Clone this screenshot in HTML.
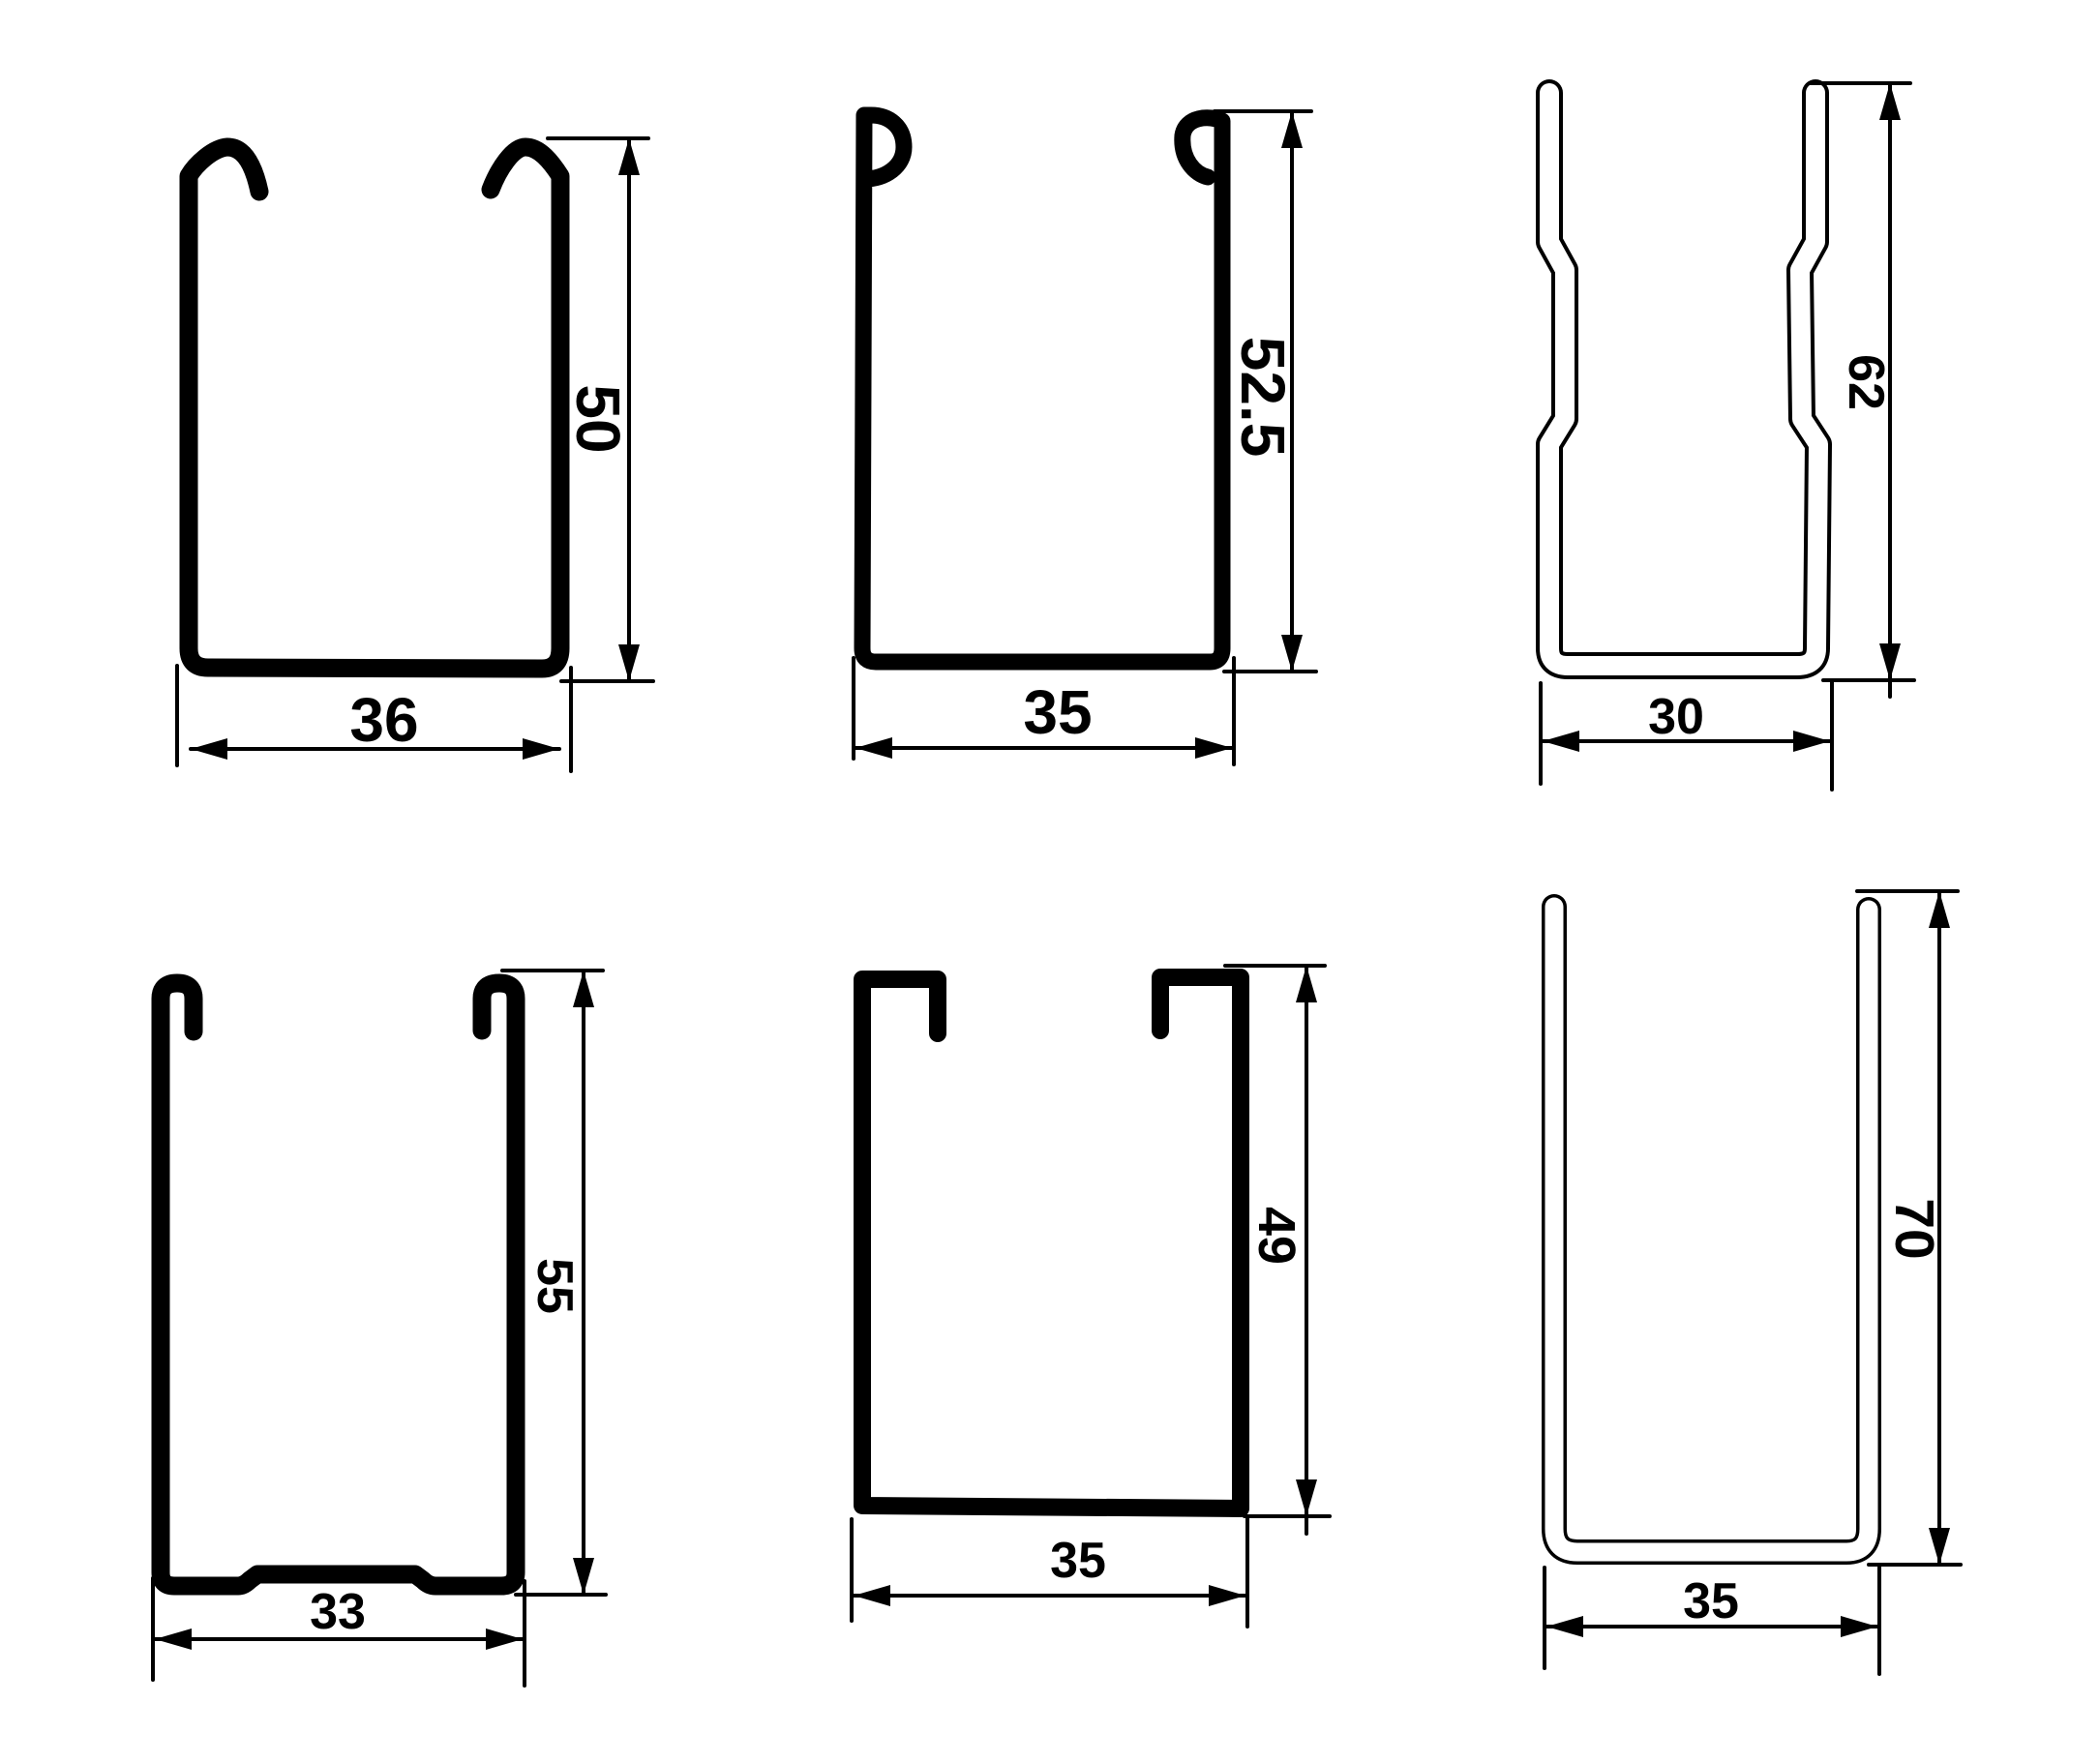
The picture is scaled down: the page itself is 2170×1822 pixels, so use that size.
<!DOCTYPE html>
<html><head><meta charset="utf-8"><style>html,body{margin:0;padding:0;background:#fff}svg{display:block}</style></head>
<body>
<svg width="2170" height="1822" viewBox="0 0 2170 1822" xmlns="http://www.w3.org/2000/svg">
<defs>
<marker id="a" markerUnits="userSpaceOnUse" markerWidth="40" markerHeight="24" refX="38" refY="11" orient="auto-start-reverse"><path d="M0,0 L38,11 L0,22 Z" fill="#000"/></marker>
</defs>
<rect width="2170" height="1822" fill="#fff"/>
<g fill="none" stroke="#000" stroke-linecap="round" stroke-linejoin="round">
<path stroke-width="19" d="M268,198 C262,170 252,152 235,152 C220,153 202,170 195,182 L195,670 Q195,690 215,690 L560,691 Q579,691 579,670 L579,182 C570,168 558,152 543,152 C530,152 515,175 507,196"/>
<path stroke-width="17" d="M893,185 C915,185 934,172 934,152 C934,130 918,119 900,119 L893,119 L891,670 Q891,684 905,684 L1250,684 Q1263,684 1263,670 L1263,125 C1250,119 1225,120 1222,140 C1220,165 1235,180 1248,183"/>
<path stroke-width="28" d="M1601,96 L1601,250 L1617,279 L1617,433 L1601,459 L1601,670 Q1601,688 1620,688 L1857,688 Q1877,688 1877,670 L1879,459 L1862,433 L1860,279 L1876,250 L1876,96"/>
<path stroke-width="20" stroke="#fff" d="M1601,96 L1601,250 L1617,279 L1617,433 L1601,459 L1601,670 Q1601,688 1620,688 L1857,688 Q1877,688 1877,670 L1879,459 L1862,433 L1860,279 L1876,250 L1876,96"/>
<path stroke-width="19" d="M200,1066 L200,1032 Q200,1016 183,1016 Q166,1016 166,1032 L166,1625 Q166,1639 180,1639 L246,1639 Q252,1639 258,1633 L266,1627 L429,1627 L437,1633 Q443,1639 450,1639 L518,1639 Q533,1639 533,1625 L533,1032 Q533,1016 516,1016 Q498,1016 498,1032 L498,1065"/>
<path stroke-width="18" d="M969,1068 L969,1012 L891,1012 L891,1556 L1282,1559 L1282,1010 L1199,1010 L1199,1065"/>
<path stroke-width="26" d="M1606,937 L1606,1580 Q1606,1604 1630,1604 L1908,1604 Q1931,1604 1931,1580 L1931,940"/>
<path stroke-width="19" stroke="#fff" d="M1606,937 L1606,1580 Q1606,1604 1630,1604 L1908,1604 Q1931,1604 1931,1580 L1931,940"/>
</g>
<g stroke="#000" stroke-width="4" fill="none" stroke-linecap="round">
<line x1="566" y1="143" x2="670" y2="143"/><line x1="580" y1="704" x2="675" y2="704"/>
<line x1="650" y1="143" x2="650" y2="704" marker-start="url(#a)" marker-end="url(#a)"/>
<line x1="183" y1="688" x2="183" y2="791"/><line x1="590" y1="690" x2="590" y2="797"/>
<line x1="197" y1="774" x2="578" y2="774" marker-start="url(#a)" marker-end="url(#a)"/>
<line x1="1255" y1="115" x2="1355" y2="115"/><line x1="1265" y1="694" x2="1360" y2="694"/>
<line x1="1335" y1="115" x2="1335" y2="694" marker-start="url(#a)" marker-end="url(#a)"/>
<line x1="882" y1="680" x2="882" y2="784"/><line x1="1275" y1="680" x2="1275" y2="790"/>
<line x1="884" y1="773" x2="1273" y2="773" marker-start="url(#a)" marker-end="url(#a)"/>
<line x1="1870" y1="86" x2="1974" y2="86"/><line x1="1884" y1="703" x2="1978" y2="703"/>
<line x1="1953" y1="86" x2="1953" y2="703" marker-start="url(#a)" marker-end="url(#a)"/>
<line x1="1953" y1="700" x2="1953" y2="720"/>
<line x1="1592" y1="706" x2="1592" y2="810"/><line x1="1893" y1="703" x2="1893" y2="816"/>
<line x1="1594" y1="766" x2="1891" y2="766" marker-start="url(#a)" marker-end="url(#a)"/>
<line x1="519" y1="1003" x2="623" y2="1003"/><line x1="533" y1="1648" x2="626" y2="1648"/>
<line x1="603" y1="1003" x2="603" y2="1648" marker-start="url(#a)" marker-end="url(#a)"/>
<line x1="158" y1="1631" x2="158" y2="1736"/><line x1="542" y1="1634" x2="542" y2="1742"/>
<line x1="160" y1="1694" x2="540" y2="1694" marker-start="url(#a)" marker-end="url(#a)"/>
<line x1="1266" y1="998" x2="1369" y2="998"/><line x1="1286" y1="1567" x2="1374" y2="1567"/>
<line x1="1350" y1="998" x2="1350" y2="1567" marker-start="url(#a)" marker-end="url(#a)"/>
<line x1="1350" y1="1565" x2="1350" y2="1585"/>
<line x1="880" y1="1570" x2="880" y2="1675"/><line x1="1289" y1="1567" x2="1289" y2="1681"/>
<line x1="882" y1="1649" x2="1287" y2="1649" marker-start="url(#a)" marker-end="url(#a)"/>
<line x1="1919" y1="921" x2="2023" y2="921"/><line x1="1931" y1="1617" x2="2026" y2="1617"/>
<line x1="2004" y1="921" x2="2004" y2="1617" marker-start="url(#a)" marker-end="url(#a)"/>
<line x1="1596" y1="1620" x2="1596" y2="1724"/><line x1="1942" y1="1620" x2="1942" y2="1730"/>
<line x1="1598" y1="1681" x2="1940" y2="1681" marker-start="url(#a)" marker-end="url(#a)"/>
</g>
<g font-family="Liberation Sans, sans-serif" font-weight="bold" fill="#000" text-anchor="middle" dominant-baseline="central">
<text x="397" y="744" font-size="64">36</text>
<text transform="translate(618,433) rotate(90)" font-size="64">50</text>
<text x="1093" y="736" font-size="64">35</text>
<text transform="translate(1305,410) rotate(90)" font-size="64">52.5</text>
<text x="1732" y="741" font-size="52">30</text>
<text transform="translate(1928,395) rotate(90)" font-size="52">62</text>
<text x="349" y="1666" font-size="52">33</text>
<text transform="translate(573,1329) rotate(90)" font-size="52">55</text>
<text x="1114" y="1613" font-size="52">35</text>
<text transform="translate(1319,1277) rotate(90)" font-size="54">49</text>
<text x="1768" y="1655" font-size="52">35</text>
<text transform="translate(1978,1270) rotate(90)" font-size="57">70</text>
</g>
</svg>
</body></html>
